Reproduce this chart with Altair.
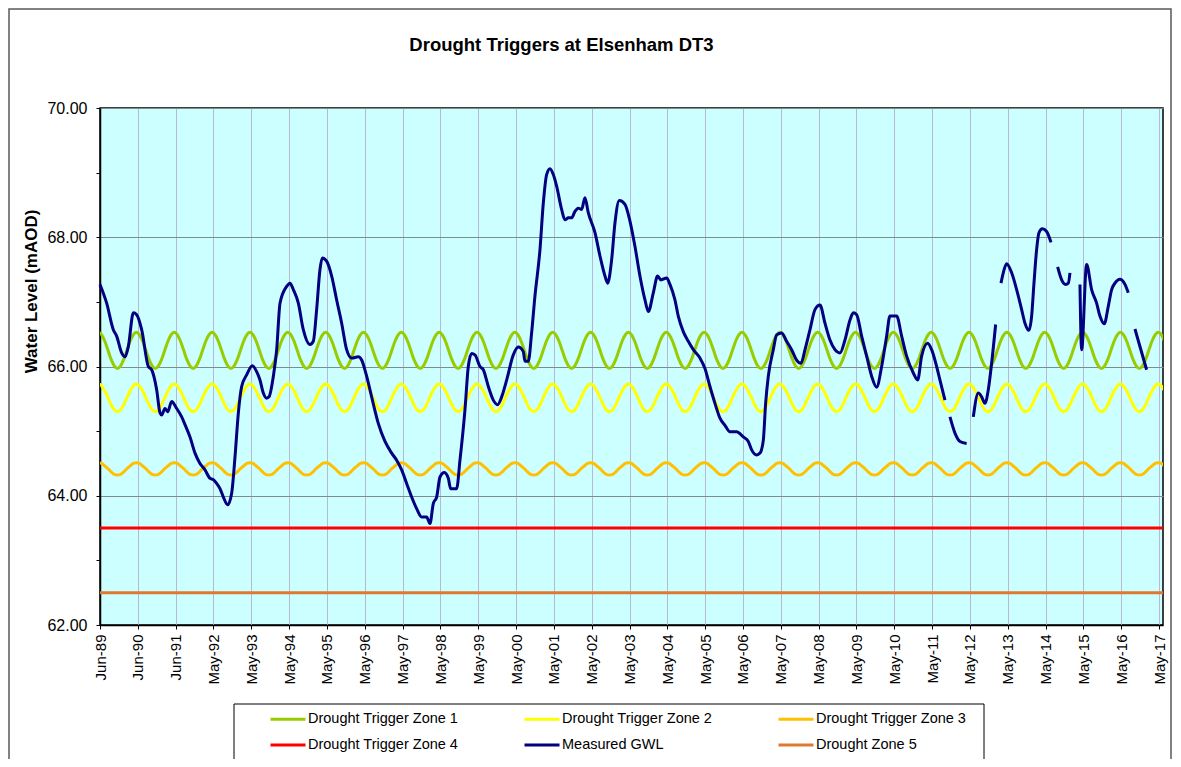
import altair as alt
import pandas as pd

# ---------------- axis tick labels ----------------
x_tick_labels = ["Jun-89", "Jun-90", "Jun-91", "May-92", "May-93", "May-94", "May-95",
                 "May-96", "May-97", "May-98", "May-99", "May-00", "May-01", "May-02",
                 "May-03", "May-04", "May-05", "May-06", "May-07", "May-08", "May-09",
                 "May-10", "May-11", "May-12", "May-13", "May-14", "May-15", "May-16",
                 "May-17"]
x_start = 1989.414          # 1 Jun 1989 (decimal year)
x_step = 365 / 365.25       # Excel tick spacing: 365 days
x_end = 2017.5
x_tick_values = [round(x_start + i * x_step, 4) for i in range(len(x_tick_labels))]
y_tick_values = [62, 63, 64, 65, 66, 67, 68, 69, 70]

# ---------------- drought trigger seasonal profiles (Jan..Dec) ----------------
zone1_profile = [66.11, 66.25, 66.39, 66.49, 66.53, 66.49, 66.39, 66.25, 66.11, 66.01, 65.97, 66.01]
zone2_profile = [65.41, 65.52, 65.62, 65.70, 65.73, 65.70, 65.62, 65.52, 65.41, 65.33, 65.30, 65.33]
zone3_profile = [64.37, 64.42, 64.46, 64.50, 64.51, 64.50, 64.46, 64.42, 64.37, 64.33, 64.32, 64.33]
zone4_level = 63.5
zone5_level = 62.5
profile_years = list(range(1989, 2018))

# ---------------- measured groundwater level (segments separated by gaps) ----------------
gwl_seg1_t = [1989.414, 1989.590, 1989.766, 1989.854, 1989.987, 1990.075, 1990.163, 1990.295,
              1990.383, 1990.515, 1990.691, 1990.779, 1990.911, 1991.000, 1991.043, 1991.131,
              1991.202, 1991.308, 1991.440, 1991.572, 1991.660, 1991.792, 1991.924, 1992.056,
              1992.188, 1992.320, 1992.408, 1992.496, 1992.584, 1992.673, 1992.787, 1992.893,
              1992.981, 1993.069, 1993.157, 1993.289, 1993.439, 1993.553, 1993.641, 1993.729,
              1993.818, 1993.879, 1993.994, 1994.082, 1994.170, 1994.346, 1994.434, 1994.522,
              1994.654, 1994.786, 1994.962, 1995.050, 1995.138, 1995.226, 1995.288, 1995.402,
              1995.535, 1995.667, 1995.799, 1995.931, 1996.063, 1996.239, 1996.327, 1996.459,
              1996.591, 1996.767, 1996.944, 1997.120, 1997.252, 1997.384, 1997.516, 1997.648,
              1997.780, 1997.912, 1998.044, 1998.132, 1998.220, 1998.309, 1998.397, 1998.511,
              1998.617, 1998.678, 1998.837, 1998.925, 1999.057, 1999.145, 1999.233, 1999.321,
              1999.453, 1999.542, 1999.674, 1999.806, 1999.920, 2000.026, 2000.158, 2000.334,
              2000.466, 2000.598, 2000.642, 2000.730, 2000.818, 2000.906, 2001.039, 2001.127,
              2001.215, 2001.303, 2001.391, 2001.479, 2001.611, 2001.699, 2001.787, 2001.875,
              2001.963, 2002.051, 2002.139, 2002.227, 2002.315, 2002.492, 2002.624, 2002.756,
              2002.826, 2002.932, 2003.020, 2003.135, 2003.284, 2003.416, 2003.548, 2003.680,
              2003.813, 2003.901, 2004.033, 2004.147, 2004.235, 2004.385, 2004.473, 2004.605,
              2004.693, 2004.825, 2004.957, 2005.090, 2005.266, 2005.398, 2005.530, 2005.662,
              2005.794, 2005.926, 2006.058, 2006.235, 2006.411, 2006.543, 2006.632, 2006.764,
              2006.852, 2006.940, 2007.001, 2007.072, 2007.204, 2007.292, 2007.424, 2007.556,
              2007.688, 2007.820, 2007.935, 2008.041, 2008.173, 2008.305, 2008.437, 2008.569,
              2008.701, 2008.833, 2008.965, 2009.097, 2009.230, 2009.318, 2009.406, 2009.538,
              2009.670, 2009.802, 2009.934, 2010.066, 2010.198, 2010.286, 2010.463, 2010.595,
              2010.727, 2010.903, 2011.017, 2011.123, 2011.281, 2011.387, 2011.519, 2011.607,
              2011.739]
gwl_seg1_v = [67.27, 66.98, 66.57, 66.47, 66.21, 66.15, 66.31, 66.83,
              66.80, 66.57, 66.00, 65.95, 65.64, 65.28, 65.25, 65.35,
              65.30, 65.46, 65.35, 65.22, 65.10, 64.91, 64.66, 64.50,
              64.40, 64.27, 64.25, 64.19, 64.11, 63.98, 63.86, 64.04,
              64.60, 65.28, 65.69, 65.87, 66.01, 65.92, 65.79, 65.59,
              65.51, 65.53, 65.85, 66.26, 66.98, 67.24, 67.29, 67.19,
              66.98, 66.57, 66.34, 66.39, 66.88, 67.50, 67.68, 67.63,
              67.40, 67.03, 66.67, 66.26, 66.13, 66.15, 66.10, 65.85,
              65.53, 65.12, 64.84, 64.66, 64.55, 64.40, 64.19, 63.98,
              63.80, 63.67, 63.67, 63.57, 63.88, 63.98, 64.29, 64.36,
              64.27, 64.11, 64.11, 64.55, 65.33, 66.00, 66.20, 66.18,
              66.00, 65.95, 65.69, 65.48, 65.41, 65.53, 65.79, 66.18,
              66.30, 66.23, 66.08, 66.08, 66.52, 67.09, 67.81, 68.53,
              68.97, 69.06, 68.97, 68.79, 68.43, 68.27, 68.30, 68.30,
              68.40, 68.45, 68.43, 68.61, 68.38, 68.07, 67.71, 67.40,
              67.29, 67.65, 68.22, 68.57, 68.51, 68.25, 67.86, 67.40,
              67.03, 66.85, 67.14, 67.40, 67.34, 67.37, 67.27, 67.03,
              66.78, 66.54, 66.39, 66.26, 66.13, 65.97, 65.69, 65.43,
              65.20, 65.09, 64.99, 64.99, 64.91, 64.84, 64.71, 64.63,
              64.66, 64.86, 65.43, 65.85, 66.26, 66.49, 66.52, 66.39,
              66.26, 66.10, 66.05, 66.26, 66.57, 66.88, 66.95, 66.67,
              66.41, 66.26, 66.21, 66.41, 66.72, 66.83, 66.80, 66.47,
              66.16, 65.85, 65.68, 66.00, 66.47, 66.78, 66.78, 66.47,
              66.16, 65.90, 65.79, 66.16, 66.36, 66.26, 66.00, 65.79,
              65.48]
gwl_seg2_t = [2011.871, 2012.003, 2012.136, 2012.312]
gwl_seg2_v = [65.22, 64.97, 64.84, 64.81]
gwl_seg3_t = [2012.488, 2012.620, 2012.708, 2012.796, 2012.884, 2012.972, 2013.078]
gwl_seg3_v = [65.22, 65.59, 65.53, 65.43, 65.64, 66.05, 66.65]
gwl_seg4_t = [2013.219, 2013.280, 2013.368, 2013.501, 2013.633, 2013.765, 2013.853, 2013.958,
              2014.029, 2014.091, 2014.161, 2014.223, 2014.311, 2014.425, 2014.540]
gwl_seg4_v = [67.29, 67.45, 67.59, 67.45, 67.19, 66.88, 66.67, 66.56,
              66.78, 67.29, 67.81, 68.07, 68.13, 68.09, 67.92]
gwl_seg5_t = [2014.716, 2014.822, 2014.927, 2014.998, 2015.042]
gwl_seg5_v = [67.54, 67.34, 67.27, 67.29, 67.45]
gwl_seg6_t = [2015.306, 2015.350, 2015.482, 2015.614, 2015.746, 2015.834, 2015.948, 2016.054,
              2016.143, 2016.231, 2016.363, 2016.495, 2016.583]
gwl_seg6_v = [67.27, 66.26, 67.58, 67.19, 66.98, 66.78, 66.66, 66.93,
              67.19, 67.29, 67.35, 67.27, 67.14]
gwl_seg7_t = [2016.759, 2016.891, 2017.067]
gwl_seg7_v = [66.58, 66.31, 65.95]

series_names = ["Drought Trigger Zone 1", "Drought Trigger Zone 2", "Drought Trigger Zone 3",
                "Drought Trigger Zone 4", "Measured GWL", "Drought Zone 5"]
series_colors = ["#99CC00", "#FFFF00", "#FFC000", "#FF0000", "#000080", "#E0782F"]

FONT = "Liberation Sans"

# ---------------- build tables ----------------
trig_rows = []
for yr in profile_years:
    for m in range(12):
        t = yr + (m + 0.5) / 12
        if t < x_start - 0.2 or t > x_end + 0.2:
            continue
        trig_rows.append({"t": t, "v": zone1_profile[m], "series": series_names[0]})
        trig_rows.append({"t": t, "v": zone2_profile[m], "series": series_names[1]})
        trig_rows.append({"t": t, "v": zone3_profile[m], "series": series_names[2]})
        trig_rows.append({"t": t, "v": zone4_level, "series": series_names[3]})
        trig_rows.append({"t": t, "v": zone5_level, "series": series_names[5]})
trig_df = pd.DataFrame(trig_rows)

gwl_rows = []
segments = [(gwl_seg1_t, gwl_seg1_v), (gwl_seg2_t, gwl_seg2_v), (gwl_seg3_t, gwl_seg3_v),
            (gwl_seg4_t, gwl_seg4_v), (gwl_seg5_t, gwl_seg5_v), (gwl_seg6_t, gwl_seg6_v),
            (gwl_seg7_t, gwl_seg7_v)]
for i, (ts, vs) in enumerate(segments):
    for t, v in zip(ts, vs):
        gwl_rows.append({"t": t, "v": v, "series": "Measured GWL", "seg": i})
gwl_df = pd.DataFrame(gwl_rows)

labels_js = "[" + ",".join("'" + s + "'" for s in x_tick_labels) + "]"
x_label_expr = f"{labels_js}[round((datum.value - {x_start}) / {x_step})]"

x_enc = alt.X("t:Q",
              scale=alt.Scale(domain=[x_start, x_end], nice=False, zero=False),
              axis=alt.Axis(values=x_tick_values, labelExpr=x_label_expr, labelAngle=-90,
                            labelFont=FONT, labelFontSize=15, labelColor="#000000",
                            labelPadding=5, tickSize=4, tickColor="#000000",
                            domainColor="#000000", domainWidth=1.5,
                            grid=True, gridColor="#B8B8D4", gridWidth=1,
                            title=None))
y_enc = alt.Y("v:Q",
              scale=alt.Scale(domain=[62, 70], nice=False, zero=False),
              axis=alt.Axis(values=y_tick_values,
                            labelExpr="datum.value % 2 == 0 ? format(datum.value, '.2f') : ''",
                            labelFont=FONT, labelFontSize=16, labelColor="#000000",
                            labelPadding=9, tickSize=4, tickColor="#000000",
                            domainColor="#000000", domainWidth=1.5,
                            grid=True, gridColor="#7F8C8C", gridWidth=1,
                            gridOpacity={"condition": {"test": "datum.value % 2 != 0", "value": 0},
                                         "value": 1},
                            title="Water Level (mAOD)", titleFont=FONT, titleFontSize=17,
                            titleFontWeight="bold", titleColor="#000000",
                            titleX=-69, titleY=183, titleBaseline="middle"))
color_enc = alt.Color("series:N",
                      scale=alt.Scale(domain=series_names, range=series_colors),
                      legend=alt.Legend(title=None, orient="none", legendX=169, legendY=592,
                                        direction="horizontal", columns=3,
                                        symbolType="stroke", symbolSize=1225,
                                        symbolStrokeWidth=3, labelFont=FONT,
                                        labelFontSize=14.5, labelColor="#000000",
                                        labelOffset=1, rowPadding=-5, columnPadding=59,
                                        labelLimit=300, padding=0))

trig_layer = alt.Chart(trig_df).mark_line(strokeWidth=3, interpolate="monotone", clip=True).encode(
    x=x_enc, y=y_enc, color=color_enc, detail="series:N")
gwl_layer = alt.Chart(gwl_df).mark_line(strokeWidth=3, interpolate="monotone").encode(
    x=x_enc, y=y_enc, color=color_enc, detail="seg:N")

frame_df = pd.DataFrame({"k": [0]})
legend_frame = alt.Chart(frame_df).mark_rect(fillOpacity=0, stroke="#000000", strokeWidth=1).encode(
    x=alt.value(134), x2=alt.value(884), y=alt.value(596), y2=alt.value(653))
outer_frame = alt.Chart(frame_df).mark_rect(fillOpacity=0, stroke="#595959", strokeWidth=1.5).encode(
    x=alt.value(-91), x2=alt.value(1071), y=alt.value(-99), y2=alt.value(700))

chart = alt.layer(outer_frame, legend_frame, trig_layer, gwl_layer).properties(
    width=1063, height=517,
    title=alt.TitleParams("Drought Triggers at Elsenham DT3", font=FONT, fontSize=18.5,
                          fontWeight="bold", color="#000000", anchor="middle", dx=-70,
                          offset=-65, baseline="bottom", frame="group"),
    autosize=alt.AutoSizeParams(type="none"),
    padding={"left": 92, "top": 100, "right": 10, "bottom": 134},
    background="#FFFFFF",
).configure_view(fill="#CCFFFF", stroke="#000000", strokeWidth=1.5)

chart.save("out.html", embed_options={"renderer": "svg", "actions": False})
